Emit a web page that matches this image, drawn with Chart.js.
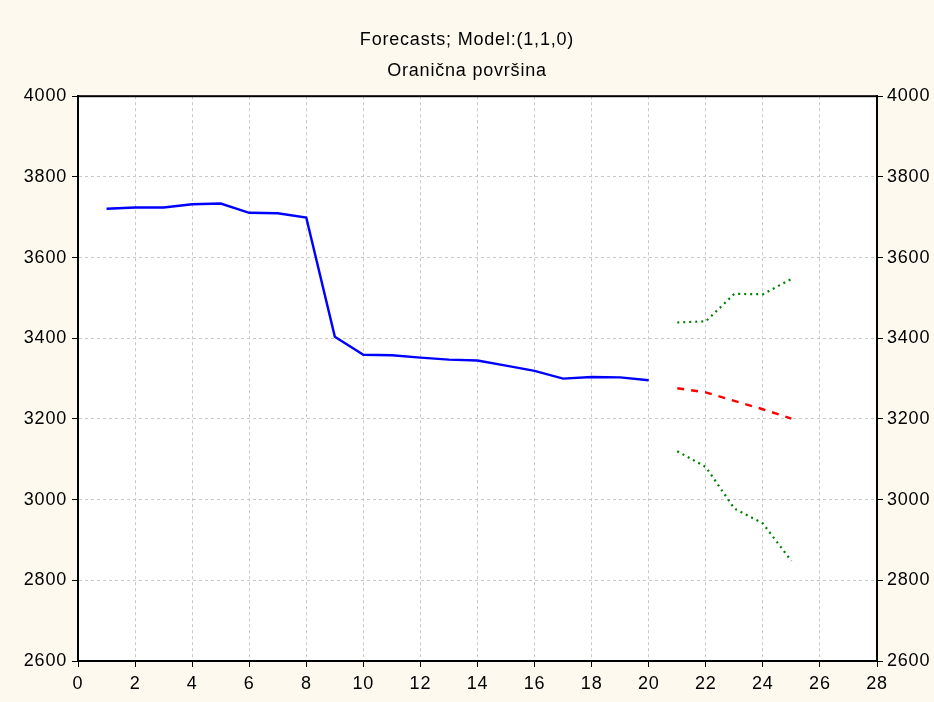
<!DOCTYPE html>
<html>
<head>
<meta charset="utf-8">
<script src="https://cdn.jsdelivr.net/npm/chart.js@4/dist/chart.umd.min.js"></script>
<style>
  html, body { margin: 0; padding: 0; background: #FEF9EE; }
  #wrap { width: 934px; height: 702px; }
</style>
</head>
<body>
<div id="wrap"><canvas id="c" width="934" height="702"></canvas></div>
<script>
// Observed series (periods 1-20) and ARIMA(1,1,0) forecasts with limits (periods 21-25)
const histPeriods = [1, 2, 3, 4, 5, 6, 7, 8, 9, 10, 11, 12, 13, 14, 15, 16, 17, 18, 19, 20];
const histValues = [3721, 3724, 3724, 3732, 3734, 3711, 3710, 3699, 3404, 3359,
                    3358, 3352, 3347, 3345, 3332, 3319, 3300, 3304, 3303, 3296];
const forecastPeriods = [21, 22, 23, 24, 25];
const forecastValues = [3276, 3266, 3245, 3224, 3201];
const upperLimit = [3439, 3442, 3510, 3509, 3547];
const lowerLimit = [3120, 3081, 2978, 2941, 2848];
const titleLines = ['Forecasts; Model:(1,1,0)', 'Oranična površina'];

const toPoints = (xs, ys) => xs.map((x, i) => ({ x: x, y: ys[i] }));

const FONT = { family: '"Liberation Sans", Arial, sans-serif', size: 18 };
const LETTER_SPACING = '0.8px';

// slightly wider text spacing for all labels
const spacing = {
  id: 'spacing',
  beforeUpdate(chart) { chart.ctx.letterSpacing = LETTER_SPACING; },
  beforeDraw(chart) { chart.ctx.letterSpacing = LETTER_SPACING; }
};

// white plot area and black frame around it
const frame = {
  id: 'frame',
  beforeDraw(chart) {
    const { ctx, chartArea: a } = chart;
    ctx.save();
    ctx.fillStyle = '#FFFFFF';
    ctx.fillRect(a.left, a.top, a.right - a.left, a.bottom - a.top);
    ctx.restore();
  },
  afterDraw(chart) {
    const { ctx, chartArea: a } = chart;
    ctx.save();
    ctx.strokeStyle = '#000000';
    ctx.lineWidth = 2;
    ctx.strokeRect(a.left, a.top, a.right - a.left, a.bottom - a.top);
    ctx.restore();
  }
};

const yAxis = (position, width, pad) => ({
  type: 'linear',
  position: position,
  min: 2600,
  max: 4000,
  ticks: {
    stepSize: 200, color: '#000000', font: FONT, padding: pad,
    callback: (v) => String(v)
  },
  grid: {
    color: '#C8C8C8', lineWidth: 1, tickLength: 6, tickColor: '#000000',
    tickWidth: 1, drawOnChartArea: position === 'left'
  },
  border: { color: '#000000', width: 2, dash: [3, 3] },
  afterFit(scale) { scale.width = width; }
});

new Chart(document.getElementById('c'), {
  type: 'line',
  data: {
    datasets: [
      {
        data: toPoints(histPeriods, histValues),
        borderColor: '#0000FF', borderWidth: 2.4, pointRadius: 0, tension: 0
      },
      {
        data: toPoints(forecastPeriods, forecastValues),
        borderColor: '#FF0000', borderWidth: 2.4, borderDash: [7, 7], pointRadius: 0, tension: 0
      },
      {
        data: toPoints(forecastPeriods, upperLimit),
        borderColor: '#008000', borderWidth: 2.2, borderDash: [2, 4], pointRadius: 0, tension: 0
      },
      {
        data: toPoints(forecastPeriods, lowerLimit),
        borderColor: '#008000', borderWidth: 2.2, borderDash: [2, 4], pointRadius: 0, tension: 0
      }
    ]
  },
  options: {
    responsive: false,
    animation: false,
    layout: { padding: 0 },
    plugins: {
      legend: { display: false },
      tooltip: { enabled: false },
      title: {
        display: true,
        text: titleLines,
        color: '#000000',
        font: { family: FONT.family, size: 18, weight: 'normal', lineHeight: 1.7 },
        padding: { top: 25, bottom: 10 }
      }
    },
    scales: {
      x: {
        type: 'linear',
        position: 'bottom',
        min: 0,
        max: 28,
        ticks: { stepSize: 2, color: '#000000', font: FONT, padding: 6, maxRotation: 0 },
        grid: { color: '#C8C8C8', lineWidth: 1, tickLength: 6, tickColor: '#000000', tickWidth: 1 },
        border: { color: '#000000', width: 2, dash: [3, 3] },
        afterFit(scale) { scale.height = 41; }
      },
      y: yAxis('left', 78, 5),
      y2: yAxis('right', 57, 4)
    }
  },
  plugins: [spacing, frame]
});
</script>
</body>
</html>
